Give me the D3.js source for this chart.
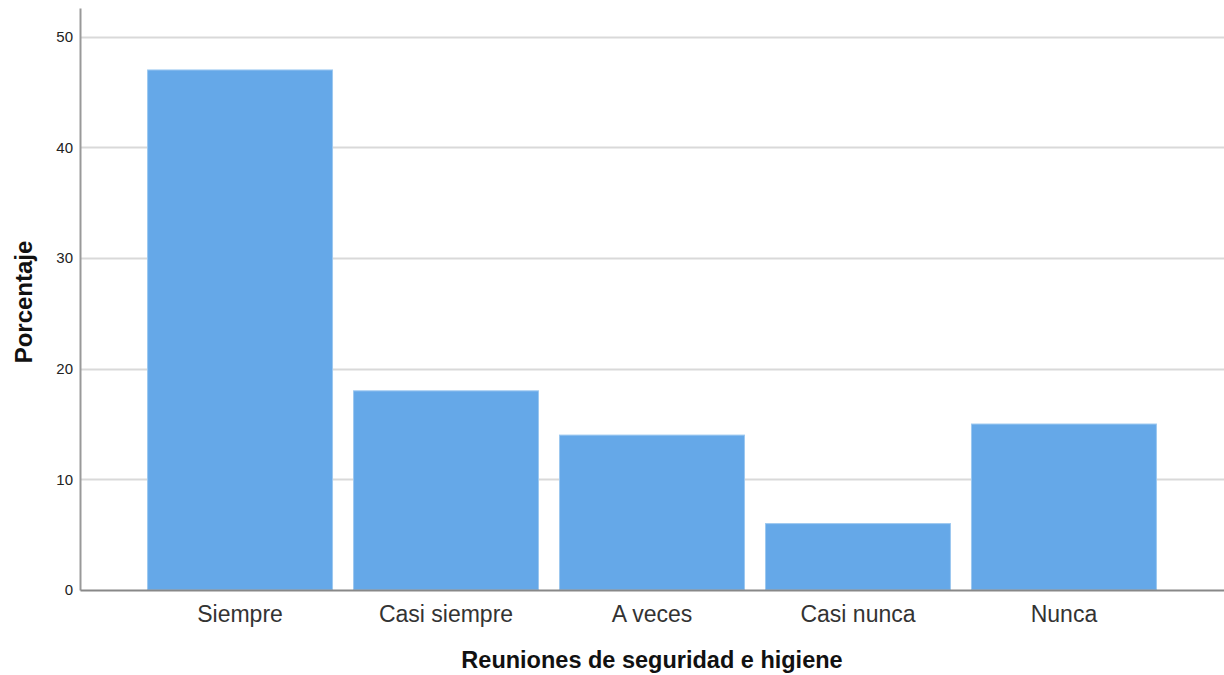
<!DOCTYPE html>
<html>
<head>
<meta charset="utf-8">
<script src="https://cdn.jsdelivr.net/npm/d3@7"></script>
<style>
  body { margin: 0; background: #fff; }
  text { font-family: "Liberation Sans", Arial, sans-serif; }
</style>
</head>
<body>
<div id="wrapper"></div>
<script>
const categories = ["Siempre", "Casi siempre", "A veces", "Casi nunca", "Nunca"]
const percentages = [47, 18, 14, 6, 15]
const yTicks = [0, 10, 20, 30, 40, 50]

const width = 1224
const height = 675
const margins = { top: 8, right: 0, bottom: 85, left: 80 }
const boundedWidth = width - margins.left - margins.right
const boundedHeight = height - margins.top - margins.bottom

const svg = d3.select("#wrapper")
  .append("svg")
  .attr("width", width)
  .attr("height", height)

const bounds = svg.append("g")
  .attr("transform", `translate(${margins.left},${margins.top})`)

// scales
const xScale = d3.scaleBand()
  .domain(categories)
  .range([0, boundedWidth])
  .paddingInner(0.102)
  .paddingOuter(0.328)

const yScale = d3.scaleLinear()
  .domain([0, 52.6])
  .range([boundedHeight, 0])

// gridlines
bounds.append("g")
  .selectAll("line")
  .data(yTicks.filter(d => d > 0))
  .join("line")
  .attr("x1", 0)
  .attr("x2", boundedWidth)
  .attr("y1", d => Math.round(yScale(d)) + 0.5)
  .attr("y2", d => Math.round(yScale(d)) + 0.5)
  .attr("stroke", "#d9d9d9")
  .attr("stroke-width", 2)

// bars
bounds.append("g")
  .selectAll("rect")
  .data(percentages)
  .join("rect")
  .attr("x", (d, i) => xScale(categories[i]))
  .attr("y", d => yScale(d))
  .attr("width", xScale.bandwidth())
  .attr("height", d => boundedHeight - yScale(d))
  .attr("fill", "#65a8e8")
  .attr("stroke", "#9cc8f0")
  .attr("stroke-width", 1)

// y axis
const yAxis = d3.axisLeft(yScale)
  .tickValues(yTicks)
  .tickSize(0)
  .tickPadding(7)
bounds.append("g")
  .call(yAxis)
  .call(g => g.select(".domain").attr("stroke", "#999").attr("stroke-width", 2))
  .call(g => g.selectAll("text").attr("font-size", 15).attr("fill", "#222")
    .attr("font-family", "Liberation Sans, Arial, sans-serif"))

// x axis
const xAxis = d3.axisBottom(xScale).tickSize(0).tickPadding(16)
bounds.append("g")
  .attr("transform", `translate(0,${boundedHeight})`)
  .call(xAxis)
  .call(g => g.select(".domain").attr("stroke", "#888").attr("stroke-width", 2))
  .call(g => g.selectAll("text").attr("font-size", 23).attr("fill", "#333")
    .attr("font-family", "Liberation Sans, Arial, sans-serif"))

// axis titles
svg.append("text")
  .attr("x", 652)
  .attr("y", 668)
  .attr("text-anchor", "middle")
  .attr("font-size", 23.5)
  .attr("font-weight", "bold")
  .attr("fill", "#111")
  .text("Reuniones de seguridad e higiene")

svg.append("text")
  .attr("transform", `translate(32,302) rotate(-90)`)
  .attr("text-anchor", "middle")
  .attr("font-size", 24)
  .attr("font-weight", "bold")
  .attr("fill", "#111")
  .text("Porcentaje")
</script>
</body>
</html>
